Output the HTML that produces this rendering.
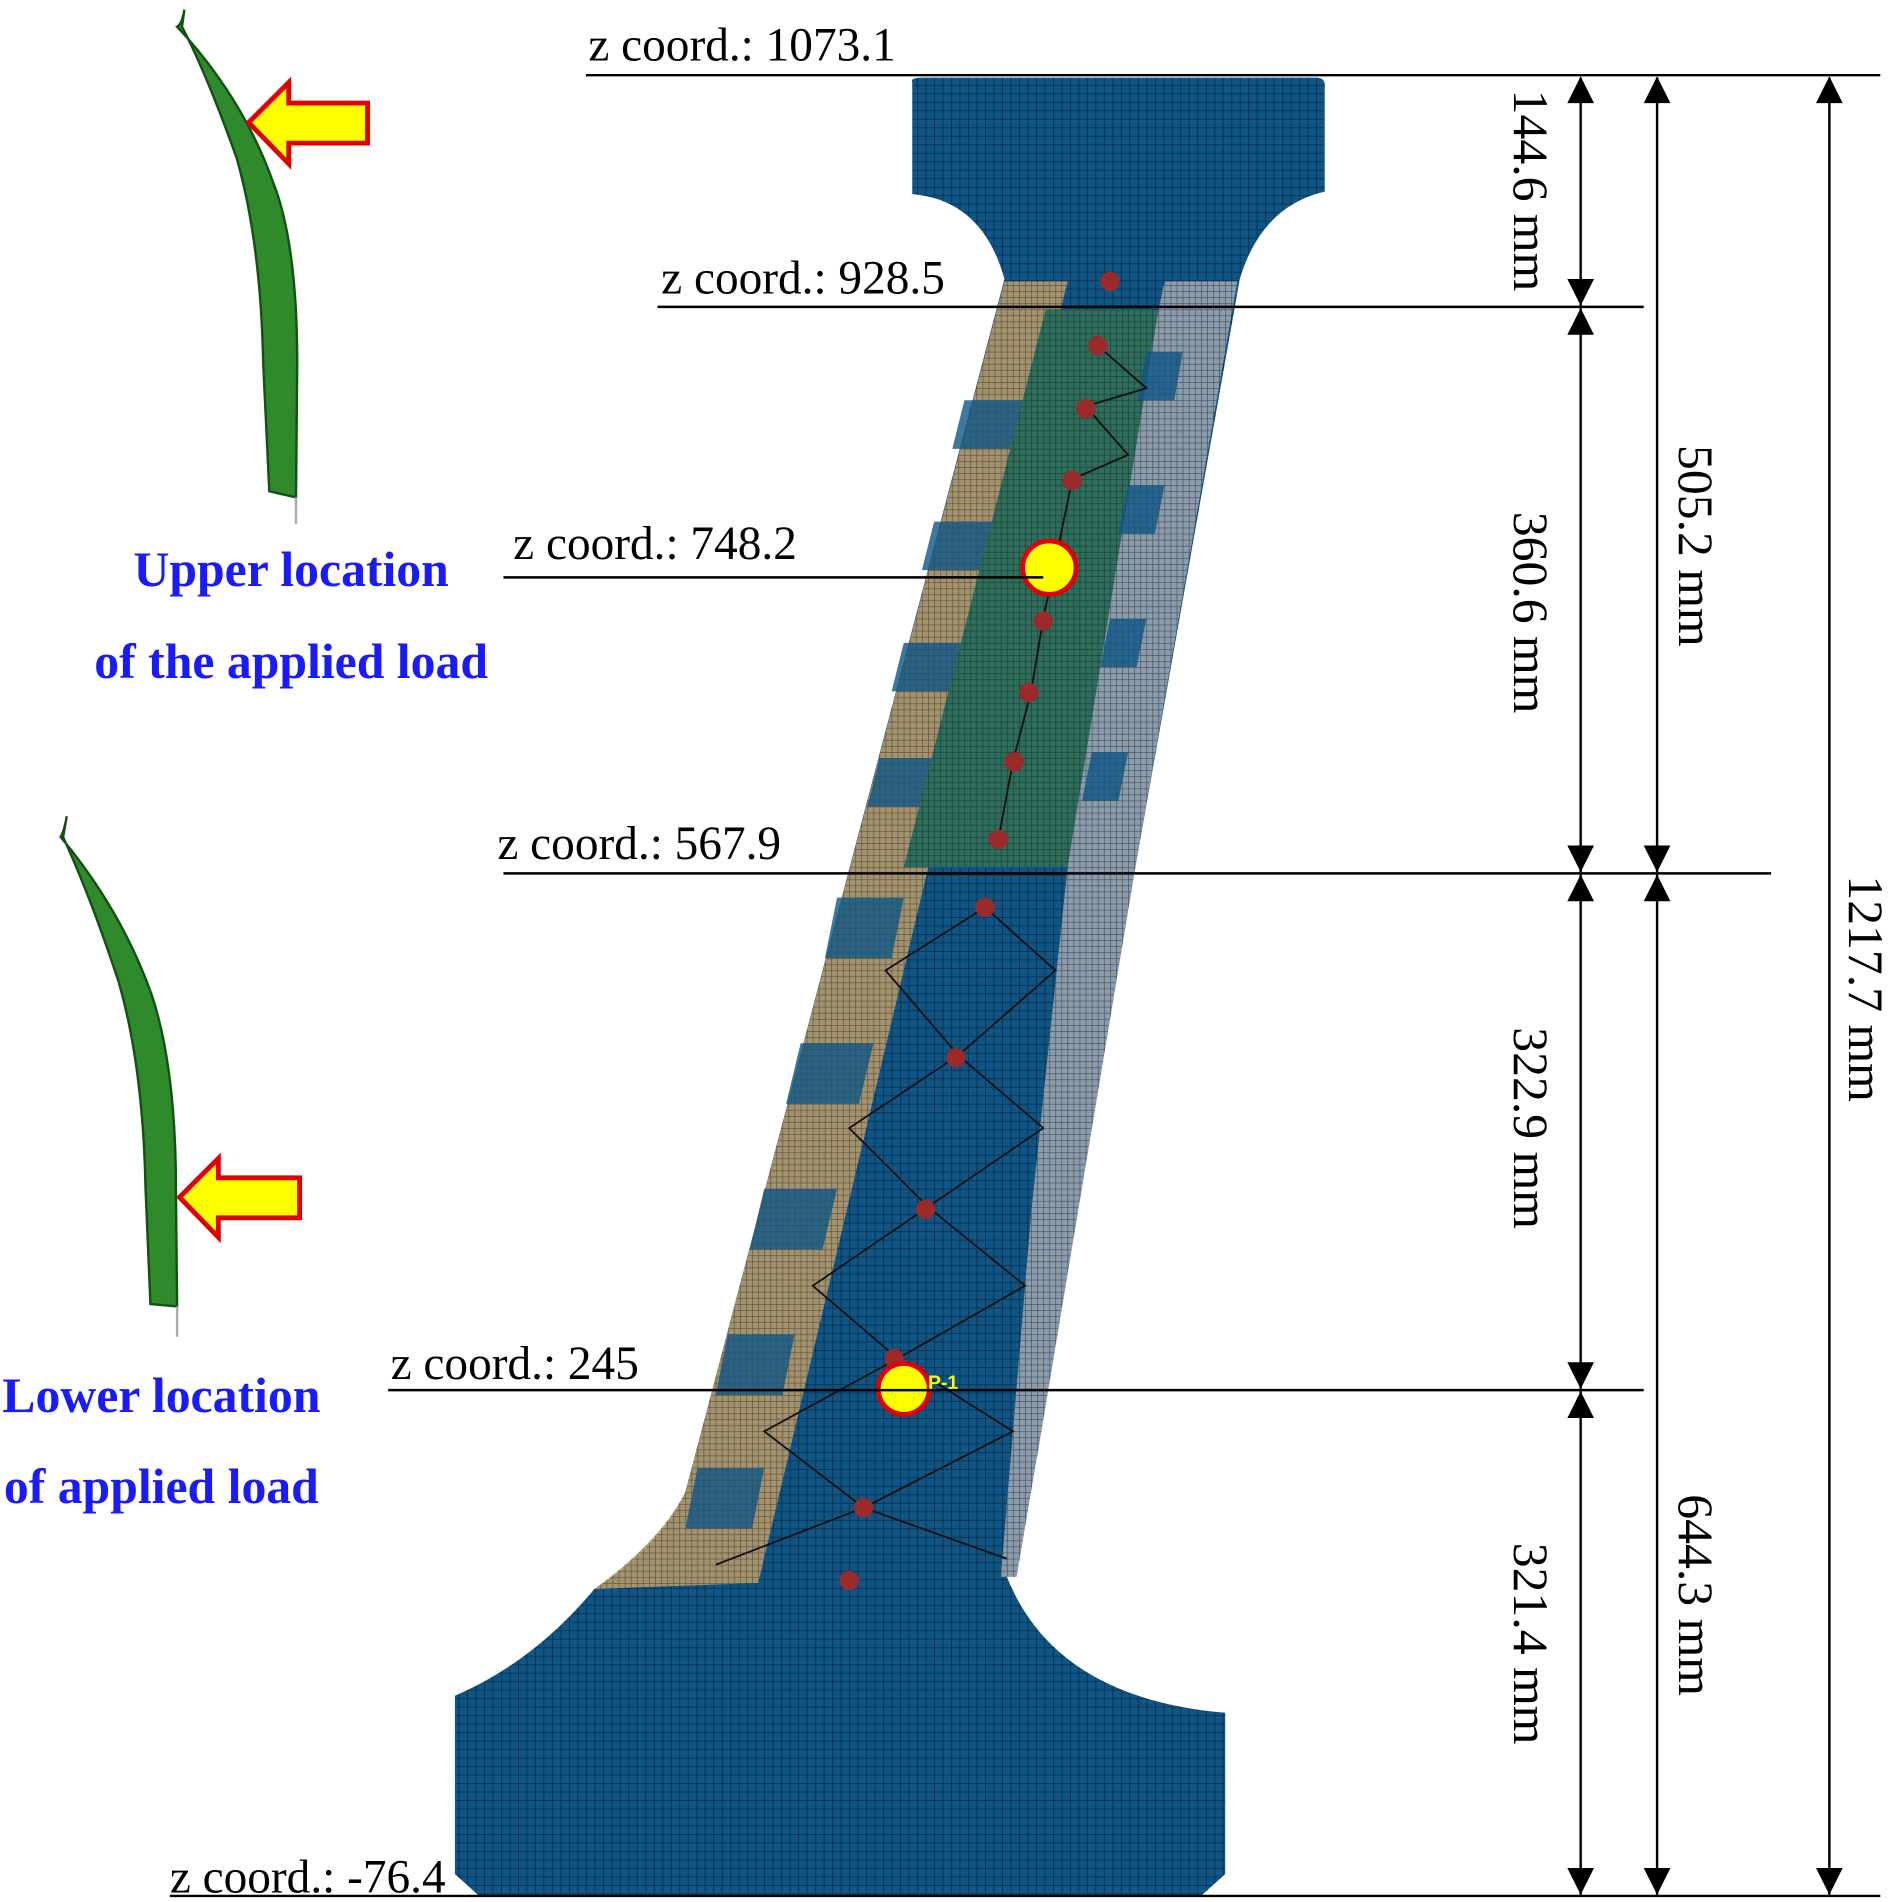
<!DOCTYPE html>
<html><head><meta charset="utf-8"><style>html,body{margin:0;padding:0;background:#fff}svg{display:block}</style></head>
<body>
<svg width="1890" height="1902" viewBox="0 0 1558 1568" preserveAspectRatio="none" xmlns="http://www.w3.org/2000/svg">
<defs>
<pattern id="mesh" width="7" height="7" patternUnits="userSpaceOnUse"><rect width="7" height="7" fill="#0f5585"/><path d="M0 0H7M0 0V7" stroke="#0a2c46" stroke-width="1.3"/></pattern>
<pattern id="gmesh" width="5" height="5" patternUnits="userSpaceOnUse"><rect width="5" height="5" fill="#2f6e5c"/><path d="M0 0H5M0 0V5" stroke="#173d33" stroke-width="1"/></pattern>
<pattern id="tmesh" width="5" height="5" patternUnits="userSpaceOnUse"><rect width="5" height="5" fill="#b49a6c"/><path d="M0 0H5M0 0V5" stroke="#5e4d33" stroke-width="1"/></pattern>
<pattern id="smesh" width="5" height="5" patternUnits="userSpaceOnUse"><rect width="5" height="5" fill="#8d9cab"/><path d="M0 0H5M0 0V5" stroke="#3d4a58" stroke-width="1"/></pattern>
</defs>
<path d="M752 68 Q750 64 760 64 L1085 64 Q1093 64 1092 72 L1092 158 Q1040 170 1022 230 L935 720 L855 1200 L830 1300 Q870 1400 1010 1412 L1010 1545 L990 1563 L395 1563 L375 1545 L375 1398 Q440 1370 490 1310 Q545 1275 565 1230 L828 230 Q810 165 752 160 Z" fill="url(#mesh)"/>
<path d="M828 232 L880 232 L625 1305 L490 1310 Q545 1270 565 1230 Z" fill="url(#tmesh)" opacity="0.9"/>
<g fill="#0f5585" opacity="0.8">
<path d="M795 330 L850 330 L840 370 L785 370Z"/><path d="M770 430 L830 430 L820 470 L760 470Z"/><path d="M745 530 L800 530 L790 570 L735 570Z"/><path d="M725 625 L785 625 L775 665 L715 665Z"/><path d="M690 740 L745 740 L735 790 L680 790Z"/><path d="M660 860 L720 860 L708 910 L648 910Z"/><path d="M630 980 L690 980 L678 1030 L618 1030Z"/><path d="M600 1100 L655 1100 L645 1150 L590 1150Z"/><path d="M575 1210 L630 1210 L620 1260 L565 1260Z"/>
</g>
<path d="M862 255 L955 255 L880 715 L745 715 Z" fill="url(#gmesh)"/>
<path d="M960 232 L1020 232 L935 720 L855 1200 L838 1300 L825 1300 L850 1000 L880 715 L955 255 Z" fill="url(#smesh)"/>
<g fill="#0f5585" opacity="0.8"><path d="M945 290 L975 290 L968 330 L938 330Z"/><path d="M930 400 L960 400 L952 440 L922 440Z"/><path d="M915 510 L945 510 L937 550 L907 550Z"/><path d="M900 620 L930 620 L922 660 L892 660Z"/></g>
<g stroke="#111" stroke-width="1.5" fill="none">
<path d="M812 748 L870 800 L790 870 L860 930 L765 995 L845 1060 L740 1120 L835 1180 L712 1243 L830 1285"/>
<path d="M812 748 L730 800 L790 870 L700 930 L765 995 L670 1060 L740 1120 L630 1180 L712 1243 L590 1290"/>
<path d="M905 285 L945 320 L895 335 L930 375 L884 395 L860 510 L850 570 L835 628 L823 692"/>
</g>
<g fill="#9b2a2a"><circle cx="915" cy="232" r="8"/><circle cx="905" cy="285" r="8"/><circle cx="895" cy="337" r="8"/><circle cx="884" cy="396" r="8"/><circle cx="860" cy="512" r="8"/><circle cx="848" cy="571" r="8"/><circle cx="836" cy="628" r="8"/><circle cx="823" cy="692" r="8"/><circle cx="812" cy="748" r="8"/><circle cx="788" cy="872" r="8"/><circle cx="763" cy="997" r="8"/><circle cx="737" cy="1120" r="8"/><circle cx="712" cy="1243" r="8"/><circle cx="700" cy="1303" r="8"/></g>
<circle cx="865" cy="468" r="22" fill="#ffff00" stroke="#e00000" stroke-width="4"/>
<circle cx="745" cy="1145" r="21" fill="#ffff00" stroke="#e00000" stroke-width="4"/>
<text x="765" y="1145" font-family="Liberation Sans,sans-serif" font-size="16" font-weight="bold" fill="#ffff00">P-1</text>
<g stroke="#000" stroke-width="2">
<line x1="483" y1="62" x2="1550" y2="62"/>
<line x1="542" y1="253" x2="1355" y2="253"/>
<line x1="415" y1="476" x2="860" y2="476"/>
<line x1="415" y1="720" x2="1460" y2="720"/>
<line x1="320" y1="1146" x2="1355" y2="1146"/>
<line x1="140" y1="1563" x2="1550" y2="1563"/>
</g>
<g stroke="#000" stroke-width="2">
<line x1="1303" y1="64" x2="1303" y2="252"/><line x1="1303" y1="254" x2="1303" y2="719"/><line x1="1303" y1="721" x2="1303" y2="1145"/><line x1="1303" y1="1147" x2="1303" y2="1562"/>
<line x1="1366" y1="64" x2="1366" y2="719"/><line x1="1366" y1="721" x2="1366" y2="1562"/>
<line x1="1508" y1="64" x2="1508" y2="1562"/>
</g>
<g fill="#000">
<path d="M1303 63 l-11 22 h22z M1303 252 l-11 -22 h22z M1303 254 l-11 22 h22z M1303 719 l-11 -22 h22z M1303 721 l-11 22 h22z M1303 1145 l-11 -22 h22z M1303 1147 l-11 22 h22z M1303 1562 l-11 -22 h22z"/>
<path d="M1366 63 l-11 22 h22z M1366 719 l-11 -22 h22z M1366 721 l-11 22 h22z M1366 1562 l-11 -22 h22z"/>
<path d="M1508 63 l-11 22 h22z M1508 1562 l-11 -22 h22z"/>
</g>
<g font-family="Liberation Serif,serif" font-size="41" fill="#000" text-anchor="middle">
<text transform="translate(1248,157) rotate(90)">144.6 mm</text>
<text transform="translate(1248,505) rotate(90)">360.6 mm</text>
<text transform="translate(1248,930) rotate(90)">322.9 mm</text>
<text transform="translate(1248,1355) rotate(90)">321.4 mm</text>
<text transform="translate(1384,450) rotate(90)">505.2 mm</text>
<text transform="translate(1384,1315) rotate(90)">644.3 mm</text>
<text transform="translate(1524,815) rotate(90)">1217.7 mm</text>
</g>
<g font-family="Liberation Serif,serif" font-size="39" fill="#000">
<text x="485" y="50">z coord.: 1073.1</text>
<text x="545" y="242">z coord.: 928.5</text>
<text x="423" y="461">z coord.: 748.2</text>
<text x="410" y="708">z coord.: 567.9</text>
<text x="322" y="1137">z coord.: 245</text>
<text x="140" y="1560">z coord.: -76.4</text>
</g>
<path d="M152 8 Q150 20 146 22 Q200 80 225 150 Q245 200 245 300 L244 410 L222 405 L217 300 Q215 200 195 130 Q170 60 150 22 Z" fill="#2e8a2a" stroke="#145214" stroke-width="2"/>
<line x1="244" y1="410" x2="244" y2="432" stroke="#aaa" stroke-width="2"/>
<path d="M205 101 L238 68 L238 85 L303 85 L303 118 L238 118 L238 135 Z" fill="#ffff00" stroke="#e00000" stroke-width="4"/>
<path d="M55 673 Q53 685 50 690 Q100 750 125 820 Q145 880 145 980 L146 1077 L124 1075 L120 980 Q118 880 98 810 Q75 740 52 690 Z" fill="#2e8a2a" stroke="#145214" stroke-width="2"/>
<line x1="146" y1="1077" x2="146" y2="1102" stroke="#aaa" stroke-width="2"/>
<path d="M148 987 L180 955 L180 971 L247 971 L247 1004 L180 1004 L180 1020 Z" fill="#ffff00" stroke="#e00000" stroke-width="4"/>
<g font-family="Liberation Serif,serif" font-size="41" font-weight="bold" fill="#1a1aff" text-anchor="middle">
<text x="240" y="483">Upper location</text>
<text x="240" y="559">of the applied load</text>
<text x="133" y="1164">Lower location</text>
<text x="133" y="1239">of applied load</text>
</g>
</svg>
</body></html>
